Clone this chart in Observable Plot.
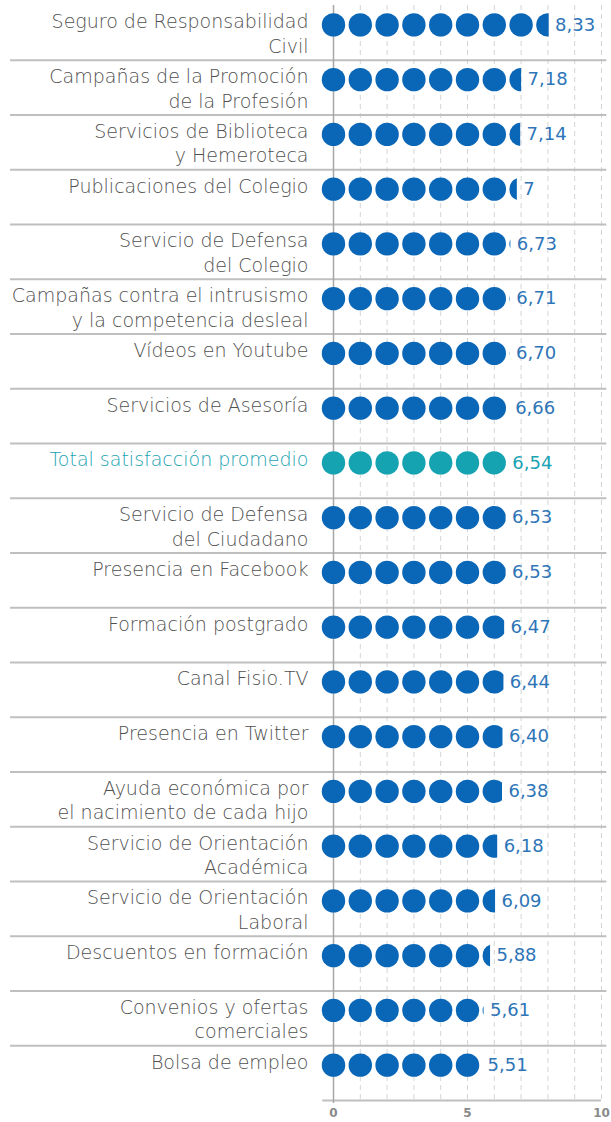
<!DOCTYPE html>
<html>
<head>
<meta charset="utf-8">
<script src="https://cdn.jsdelivr.net/npm/d3@7"></script>
<script src="https://cdn.jsdelivr.net/npm/@observablehq/plot@0.6"></script>
<style>
  html, body { margin: 0; padding: 0; background: #fff; }
  #chart svg { display: block; }
</style>
</head>
<body>
<div id="chart"></div>
<script>
// ---- data ----
const categories = [
  "Seguro de Responsabilidad\nCivil",
  "Campañas de la Promoción\nde la Profesión",
  "Servicios de Biblioteca\ny Hemeroteca",
  "Publicaciones del Colegio",
  "Servicio de Defensa\ndel Colegio",
  "Campañas contra el intrusismo\ny la competencia desleal",
  "Vídeos en Youtube",
  "Servicios de Asesoría",
  "Total satisfacción promedio",
  "Servicio de Defensa\ndel Ciudadano",
  "Presencia en Facebook",
  "Formación postgrado",
  "Canal Fisio.TV",
  "Presencia en Twitter",
  "Ayuda económica por\nel nacimiento de cada hijo",
  "Servicio de Orientación\nAcadémica",
  "Servicio de Orientación\nLaboral",
  "Descuentos en formación",
  "Convenios y ofertas\ncomerciales",
  "Bolsa de empleo"
];
const values = [8.33, 7.18, 7.14, 7, 6.73, 6.71, 6.70, 6.66, 6.54, 6.53, 6.53, 6.47, 6.44, 6.40, 6.38, 6.18, 6.09, 5.88, 5.61, 5.51];
const valueLabels = ["8,33", "7,18", "7,14", "7", "6,73", "6,71", "6,70", "6,66", "6,54", "6,53", "6,53", "6,47", "6,44", "6,40", "6,38", "6,18", "6,09", "5,88", "5,61", "5,51"];
const highlight = "Total satisfacción promedio";
const xTicks = [0, 5, 10];

// ---- styling / layout ----
const W = 611, H = 1122, mT = 5, mB = 22, mL = 333, mR = 10;
const rowH = (H - mT - mB) / categories.length;
const BLUE = "#0a66b6", TEAL = "#15a3b2", BLUE_TXT = "#2e75b8", TEAL_TXT = "#1aa3b3";
const LABEL = "#505050";
const R_PX = 11.7;                  // icon radius in px
const unitPx = (W - mL - mR) / 10;
const R_U = R_PX / unitPx;          // icon radius in data units
const DOT_DY = -8;
const FONT = "DejaVu Sans";
const LFS = 19;                     // label font size

// visible end of the pictogram bar (icons are cut there)
const cutAt = v => 0.59 + 0.893 * v;

function partialCircle(f) {
  return {
    draw(ctx, size) {
      const r = Math.sqrt(size / Math.PI);
      if (f >= 1) { ctx.moveTo(r, 0); ctx.arc(0, 0, r, 0, 2 * Math.PI); ctx.closePath(); return; }
      const t = Math.acos(f);
      ctx.moveTo(f * r, r * Math.sin(t));
      ctx.arc(0, 0, r, t, 2 * Math.PI - t);
      ctx.closePath();
    }
  };
}

const rows = categories.map((c, i) => ({cat: c, value: values[i], label: valueLabels[i], cut: cutAt(values[i]), hi: c === highlight}));
const icons = [];
for (const r of rows) {
  for (let k = 0; k <= 10; k++) {
    const f = (r.cut - k) / R_U;
    if (f <= -1) break;
    icons.push({cat: r.cat, k, f: Math.min(f, 1), hi: r.hi});
  }
}

const chart = Plot.plot({
  width: W, height: H,
  marginTop: mT, marginBottom: mB, marginLeft: mL, marginRight: mR,
  style: {fontFamily: FONT, background: "#fff"},
  x: {domain: [0, 10], axis: null},
  y: {type: "band", domain: categories, padding: 0, round: false, axis: null},
  marks: [
    // dashed vertical gridlines
    Plot.ruleX(d3.range(1, 11), {stroke: "#d4d4d4", strokeWidth: 1, strokeDasharray: "5,4", insetBottom: -3}),
    // row separators
    Plot.ruleY(categories.slice(0, -1), {y: d => d, dy: rowH / 2, x1: -12.05, x2: 10.2, stroke: "#bfbfbf", strokeWidth: 2}),
    // bottom axis line
    Plot.ruleY(categories.slice(-1), {y: d => d, dy: rowH / 2, x1: -0.4, x2: 10, stroke: "#bfbfbf", strokeWidth: 2}),
    // vertical axis at 0
    Plot.ruleX([0], {stroke: "#a6a6a6", strokeWidth: 1.5, insetBottom: -3}),
    // tick labels
    Plot.axisX(xTicks, {tickSize: 0, tickPadding: 8, fill: "#8a8a8a", fontWeight: "bold", fontSize: 12, fontFamily: FONT, label: null}),
    // pictogram icons
    Plot.dot(icons, {
      x: "k", y: "cat", r: R_PX, dy: DOT_DY,
      symbol: d => partialCircle(d.f),
      fill: d => d.hi ? TEAL : BLUE, stroke: "none"
    }),
    // value labels
    Plot.text(rows, {
      x: d => d.cut + 0.24, y: "cat", dy: DOT_DY, text: "label", textAnchor: "start",
      fill: d => d.hi ? TEAL_TXT : BLUE_TXT, fontSize: 18, fontFamily: FONT
    }),
    // category labels
    Plot.text(rows, {
      frameAnchor: "left", dx: -25, y: "cat", dy: DOT_DY - 14, text: "cat",
      textAnchor: "end", lineAnchor: "top", lineHeight: 24.5 / LFS,
      fill: d => d.hi ? TEAL_TXT : LABEL, fontSize: LFS, fontFamily: FONT, fontWeight: 300
    })
  ]
});
document.getElementById("chart").appendChild(chart);
</script>
</body>
</html>
